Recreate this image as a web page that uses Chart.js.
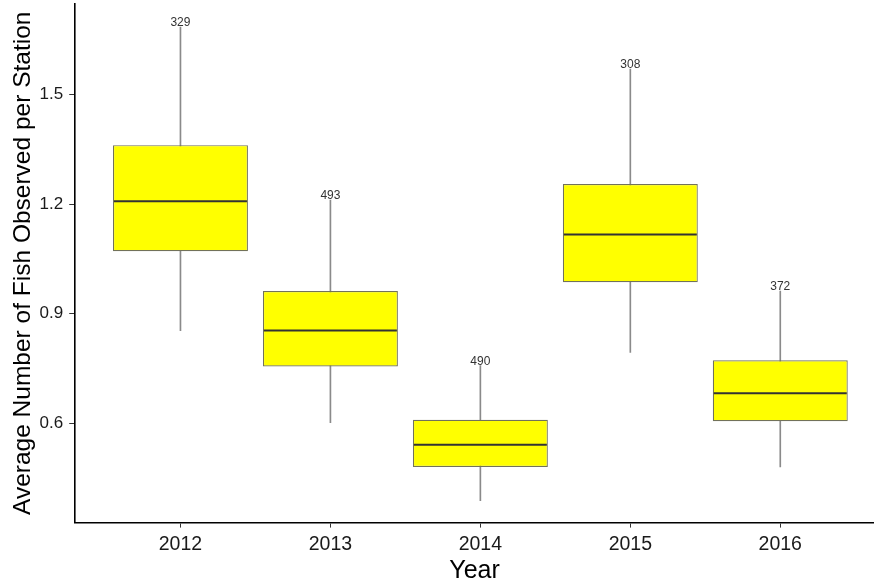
<!DOCTYPE html>
<html>
<head>
<meta charset="utf-8">
<script src="https://cdn.jsdelivr.net/npm/chart.js@4"></script>
<style>
  html, body { margin: 0; padding: 0; background: #fff; }
  #wrap { width: 874px; height: 584px; }
</style>
</head>
<body>
<div id="wrap"><canvas id="box" width="874" height="584"></canvas></div>
<script>
// 연도별 박스플롯 값
const years = ['2012', '2013', '2014', '2015', '2016'];
const whiskerLow = [0.854, 0.602, 0.389, 0.794, 0.481];
const q1 = [1.071, 0.756, 0.481, 0.986, 0.606];
const median = [1.208, 0.854, 0.542, 1.117, 0.683];
const q3 = [1.361, 0.962, 0.610, 1.255, 0.773];
const whiskerHigh = [1.684, 1.211, 0.758, 1.569, 0.962];
const counts = [329, 493, 490, 308, 372];
const yTicks = [0.6, 0.9, 1.2, 1.5];

const font = 'Liberation Sans, Arial, sans-serif';

// 중앙값 선 + 표본 수 라벨
const medianPlugin = {
  id: 'medianPlugin',
  afterDatasetsDraw(chart) {
    const { ctx, scales: { x, y } } = chart;
    const meta = chart.getDatasetMeta(1);
    ctx.save();
    meta.data.forEach((bar, i) => {
      const half = bar.width / 2;
      const my = y.getPixelForValue(median[i]);
      ctx.strokeStyle = '#333';
      ctx.lineWidth = 2;
      ctx.beginPath();
      ctx.moveTo(bar.x - half + 1, my);
      ctx.lineTo(bar.x + half - 1, my);
      ctx.stroke();

      ctx.fillStyle = '#333';
      ctx.font = '12px ' + font;
      ctx.textAlign = 'center';
      ctx.textBaseline = 'middle';
      ctx.fillText(String(counts[i]), x.getPixelForValue(i), y.getPixelForValue(whiskerHigh[i]) - 4);
    });
    ctx.restore();
  }
};

new Chart(document.getElementById('box'), {
  type: 'bar',
  data: {
    datasets: [
      {
        label: 'whisker',
        data: years.map((_, i) => ({ x: i, y: [whiskerLow[i], whiskerHigh[i]] })),
        backgroundColor: '#8a8a8a',
        barThickness: 1,
        grouped: false,
        order: 2
      },
      {
        label: 'box',
        data: years.map((_, i) => ({ x: i, y: [q1[i], q3[i]] })),
        backgroundColor: '#ffff00',
        borderColor: '#72725a',
        borderWidth: 1.2,
        borderSkipped: false,
        barPercentage: 0.9,
        categoryPercentage: 1,
        grouped: false,
        order: 1
      }
    ]
  },
  options: {
    responsive: false,
    animation: false,
    layout: { padding: { left: 12, right: 0, top: 4, bottom: 3 } },
    plugins: {
      legend: { display: false },
      tooltip: { enabled: false }
    },
    scales: {
      x: {
        type: 'linear',
        offset: false,
        min: -0.702,
        max: 4.625,
        afterBuildTicks: axis => { axis.ticks = years.map((_, i) => ({ value: i })); },
        ticks: {
          callback: v => years[v],
          color: '#1a1a1a',
          font: { family: font, size: 19.5 },
          padding: 5,
          maxRotation: 0,
          autoSkip: false
        },
        grid: { offset: false, drawOnChartArea: false, drawTicks: true, tickLength: 5, color: '#333', tickWidth: 1 },
        border: { display: true, color: '#000', width: 1.6 },
        title: {
          display: true,
          text: 'Year',
          color: '#000',
          font: { family: font, size: 25, lineHeight: 0.8 },
          padding: { top: 0, bottom: 0 }
        }
      },
      y: {
        min: 0.329,
        max: 1.747,
        afterBuildTicks: axis => { axis.ticks = yTicks.map(v => ({ value: v })); },
        // 맨 위 눈금이 축 끝에서 멀어서 라벨 여백 제거
        afterFit: axis => { axis.paddingTop = 0; axis.paddingBottom = 0; },
        ticks: {
          callback: v => v.toFixed(1),
          color: '#1a1a1a',
          font: { family: font, size: 17 },
          padding: 6
        },
        grid: { drawOnChartArea: false, drawTicks: true, tickLength: 6, color: '#333', tickWidth: 1 },
        border: { display: true, color: '#000', width: 1.6 },
        title: {
          display: true,
          text: 'Average Number of Fish Observed per Station',
          color: '#000',
          font: { family: font, size: 24.5, lineHeight: 0.88 },
          padding: { top: 0, bottom: 0 }
        }
      }
    }
  },
  plugins: [medianPlugin]
});
</script>
</body>
</html>
